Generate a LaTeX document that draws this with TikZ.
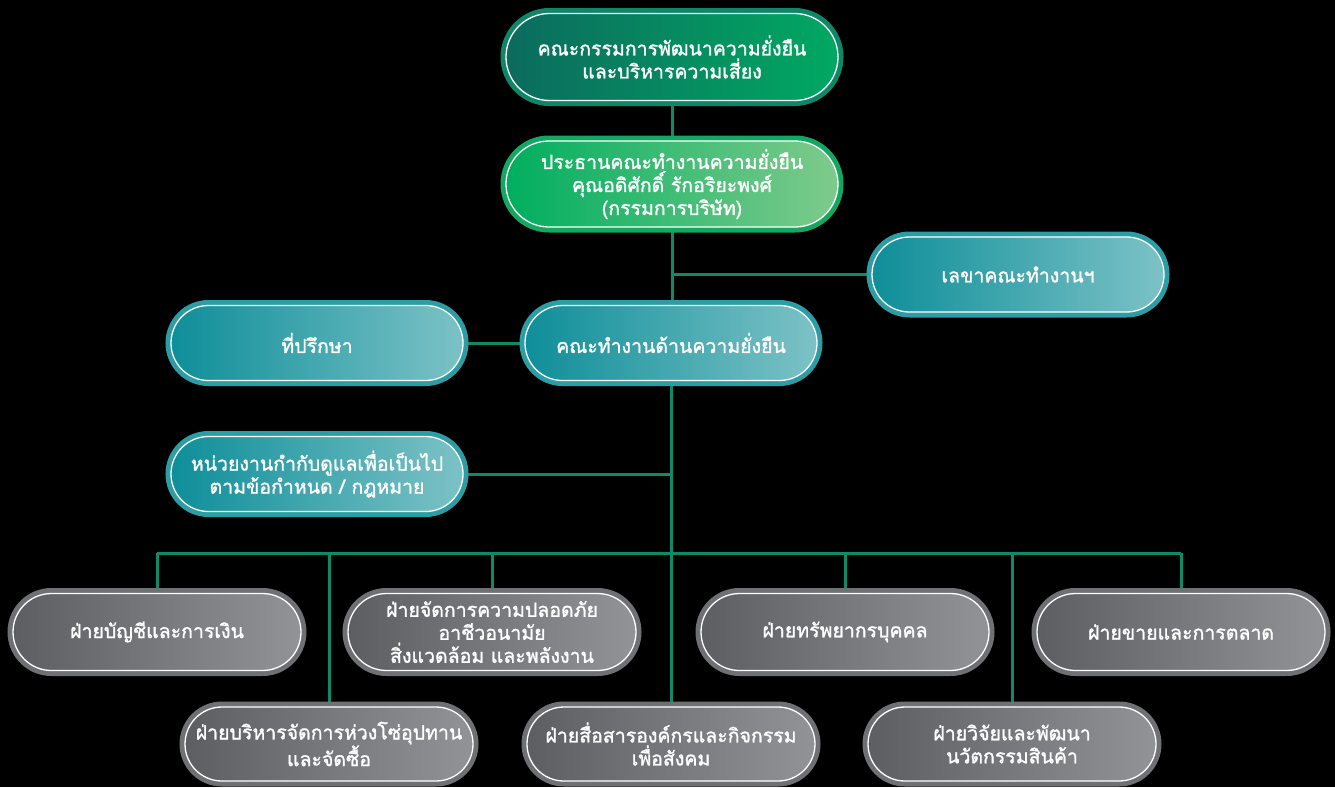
\documentclass[tikz,border=0pt]{standalone}
\usepackage{fontspec}
\newfontfamily\thaifont[Script=Thai,FakeBold=1.4]{Loma}
\usetikzlibrary{backgrounds}
\definecolor{linkgreen}{HTML}{0E8A68}
\definecolor{topleft}{HTML}{0B6B5E}
\definecolor{topright}{HTML}{01A862}
\definecolor{topring}{HTML}{0E8767}
\definecolor{chairleft}{HTML}{00AE5F}
\definecolor{chairright}{HTML}{7FCB8C}
\definecolor{chairring}{HTML}{12A862}
\definecolor{tealleft}{HTML}{0E8E99}
\definecolor{tealright}{HTML}{7CC2C6}
\definecolor{tealring}{HTML}{2C9DA4}
\definecolor{grayleft}{HTML}{5D5E62}
\definecolor{grayright}{HTML}{929396}
\definecolor{grayring}{HTML}{6F7073}
\begin{document}
\begin{tikzpicture}[x=1pt,y=-1pt,
    pill/.style={rectangle,inner sep=0pt,align=center,text=white,
        font=\thaifont\fontsize{19.5}{23}\selectfont,
        draw=white,line width=1.3pt},
    topbox/.style={pill,minimum width=332pt,minimum height=87pt,rounded corners=43.5pt,
        left color=topleft,right color=topright,preaction={draw=topring,line width=11pt}},
    chairbox/.style={pill,minimum width=332pt,minimum height=86pt,rounded corners=43pt,
        left color=chairleft,right color=chairright,preaction={draw=chairring,line width=11pt}},
    tealbox/.style={pill,minimum width=292pt,minimum height=75pt,rounded corners=37.5pt,
        left color=tealleft,right color=tealright,preaction={draw=tealring,line width=11pt}},
    graybox/.style={pill,minimum width=288pt,minimum height=77pt,rounded corners=38.5pt,
        left color=grayleft,right color=grayright,preaction={draw=grayring,line width=11pt}},
    link/.style={draw=linkgreen,line width=3pt}]
    \useasboundingbox (0,0) rectangle (1335,787);
    \clip (0,0) rectangle (1335,787);
    \node[topbox] (board) at (672,57) {คณะกรรมการพัฒนาความยั่งยืน\\และบริหารความเสี่ยง};
    \node[chairbox] (chair) at (672,184) {ประธานคณะทำงานความยั่งยืน\\คุณอดิศักดิ์ รักอริยะพงศ์\\(กรรมการบริษัท)};
    \node[tealbox] (secretary) at (1018,274.5) {เลขาคณะทำงานฯ};
    \node[tealbox] (workgroup) at (671,343) {คณะทำงานด้านความยั่งยืน};
    \node[tealbox] (advisor) at (317,343) {ที่ปรึกษา};
    \node[tealbox] (compliance) at (317,474) {หน่วยงานกำกับดูแลเพื่อเป็นไป\\ตามข้อกำหนด / กฎหมาย};
    \node[graybox] (account) at (157,632) {ฝ่ายบัญชีและการเงิน};
    \node[graybox] (safety) at (492,632) {ฝ่ายจัดการความปลอดภัย\\อาชีวอนามัย\\สิ่งแวดล้อม และพลังงาน};
    \node[graybox] (hr) at (845,632) {ฝ่ายทรัพยากรบุคคล};
    \node[graybox] (sales) at (1181,632) {ฝ่ายขายและการตลาด};
    \node[graybox,minimum height=74pt,rounded corners=37pt] (supply) at (329,744) {ฝ่ายบริหารจัดการห่วงโซ่อุปทาน\\และจัดซื้อ};
    \node[graybox,minimum height=74pt,rounded corners=37pt] (csr) at (671,744) {ฝ่ายสื่อสารองค์กรและกิจกรรม\\เพื่อสังคม};
    \node[graybox,minimum height=74pt,rounded corners=37pt] (rnd) at (1012,744) {ฝ่ายวิจัยและพัฒนา\\นวัตกรรมสินค้า};
    \coordinate (bus) at (671,553);
    \begin{scope}[on background layer]
        \fill[black] (0,0) rectangle (1335,787);
        \draw[link] (board) -- (chair);
        \draw[link] (chair.south) -- (chair.south |- workgroup.north);
        \draw[link] (chair.south |- secretary.west) -- (secretary.west);
        \draw[link] (advisor) -- (workgroup);
        \draw[link] (workgroup.south) -- (workgroup.south |- bus);
        \draw[link] (compliance.east) -- (compliance.east -| workgroup.south);
        \draw[link] (account.north |- bus) -- (sales.north |- bus);
        \foreach \unit in {account,supply,safety,csr,hr,rnd,sales}
            \draw[link] (\unit.north |- bus) -- (\unit.north);
    \end{scope}
\end{tikzpicture}
\end{document}
